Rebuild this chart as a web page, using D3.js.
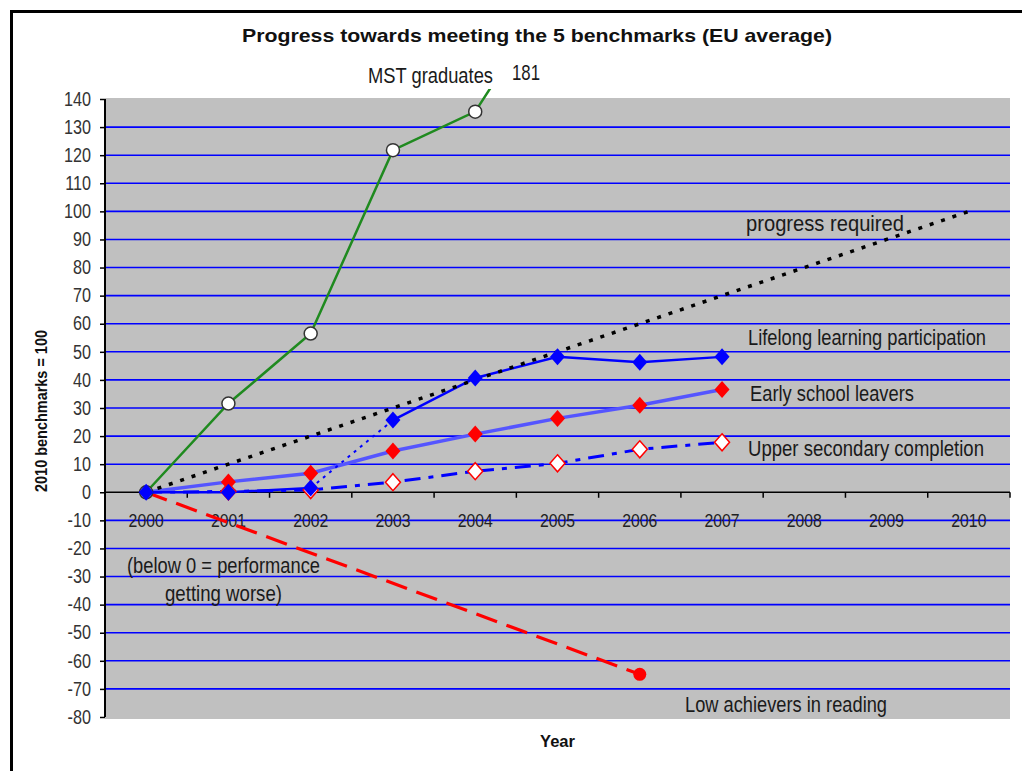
<!DOCTYPE html>
<html>
<head>
<meta charset="utf-8">
<script src="https://cdn.jsdelivr.net/npm/d3@7"></script>
<style>
  html, body { margin: 0; padding: 0; background: #fff; }
  svg { display: block; }
  .narrow { font-family: "Liberation Sans", Arial, sans-serif; }
  .bold { font-family: "Liberation Sans", Arial, sans-serif; font-weight: bold; }
</style>
</head>
<body>
<svg id="chart" width="1022" height="771"></svg>
<script>
// ---- data ----
const years = [2000, 2001, 2002, 2003, 2004, 2005, 2006, 2007, 2008, 2009, 2010];
const yTicks = [-80, -70, -60, -50, -40, -30, -20, -10, 0, 10, 20, 30, 40, 50, 60, 70, 80, 90, 100, 110, 120, 130, 140];

const mstYears = [2000, 2001, 2002, 2003, 2004, 2005];
const mstValues = [0, 31.6, 56.5, 121.8, 135.5, 181];

const requiredYears = [2000, 2001, 2002, 2003, 2004, 2005, 2006, 2007, 2008, 2009, 2010];
const requiredValues = [0, 10, 20, 30, 40, 50, 60, 70, 80, 90, 100];

const lifelongYears = [2000, 2001, 2002, 2003, 2004, 2005, 2006, 2007];
const lifelongValues = [0, 0, 1.5, 25.7, 40.7, 48.2, 46.3, 48.2];

const earlyYears = [2000, 2001, 2002, 2003, 2004, 2005, 2006, 2007];
const earlyValues = [0, 3.7, 6.8, 14.7, 20.7, 26.3, 31.0, 36.6];

const upperYears = [2000, 2001, 2002, 2003, 2004, 2005, 2006, 2007];
const upperValues = [0, 0.3, 0.8, 3.6, 7.5, 10.3, 15.3, 17.8];

const readingYears = [2000, 2006];
const readingValues = [0, -64.8];

// ---- layout ----
const svg = d3.select("#chart");
const W = 1022, H = 771;
const plot = { left: 105, right: 1010, top: 98, bottom: 719 };
const NARROW = 0.83;

const x = d3.scaleBand().domain(years).range([plot.left, plot.right]).paddingInner(0).paddingOuter(0);
const xc = yr => x(yr) + x.bandwidth() / 2;
const y = d3.scaleLinear().domain([-80, 140]).range([717, 99]);

const zip = (a, b) => a.map((v, i) => ({ year: v, value: b[i] }));

// frame
svg.append("rect").attr("width", W).attr("height", H).attr("fill", "#fff");
svg.append("path")
  .attr("d", `M11.5,${H} L11.5,11.5 L${W},11.5`)
  .attr("fill", "none").attr("stroke", "#000").attr("stroke-width", 3);

// title
svg.append("text").attr("class", "bold")
  .attr("x", 537).attr("y", 41.5)
  .attr("text-anchor", "middle")
  .attr("font-size", 19)
  .attr("textLength", 590).attr("lengthAdjust", "spacingAndGlyphs")
  .attr("fill", "#111")
  .text("Progress towards meeting the 5 benchmarks (EU average)");

// plot background
svg.append("rect")
  .attr("x", plot.left).attr("y", plot.top)
  .attr("width", plot.right - plot.left).attr("height", plot.bottom - plot.top)
  .attr("fill", "#c0c0c0");

// gridlines
svg.append("g").selectAll("line")
  .data(yTicks.filter(t => t !== 0 && t !== 140 && t !== -80))
  .join("line")
  .attr("x1", plot.left).attr("x2", plot.right)
  .attr("y1", d => y(d)).attr("y2", d => y(d))
  .attr("stroke", "#0000ff").attr("stroke-width", 1.6);

// y axis
const yAxis = svg.append("g")
  .attr("transform", `translate(${plot.left},0)`)
  .call(d3.axisLeft(y).tickValues(yTicks).tickSize(5).tickPadding(9).tickSizeOuter(0)
    .tickFormat(d => String(d)));
yAxis.select(".domain").attr("stroke", "#000").attr("stroke-width", 2)
  .attr("d", `M0,${y(140)}V${y(-80)}`);
yAxis.selectAll(".tick line").attr("stroke", "#000").attr("stroke-width", 1.5);
yAxis.selectAll(".tick text")
  .attr("class", "narrow")
  .attr("x", 0)
  .attr("transform", `translate(-14,0) scale(${NARROW},1)`)
  .attr("font-size", 19.5).attr("fill", "#333");

// x axis at zero
const xAxis = svg.append("g")
  .attr("transform", `translate(0,${y(0)})`)
  .call(d3.axisBottom(x).tickSize(0).tickPadding(21));
xAxis.select(".domain").attr("stroke", "#000").attr("stroke-width", 1.5)
  .attr("d", `M${plot.left},0H${plot.right}`);
xAxis.selectAll(".tick text")
  .attr("class", "narrow")
  .attr("transform", `scale(${NARROW},1)`)
  .attr("font-size", 19).attr("fill", "#222");
xAxis.selectAll(".boundary")
  .data(years.slice(1).map(yr => x(yr)).concat([plot.right]))
  .join("line")
  .attr("x1", d => d).attr("x2", d => d)
  .attr("y1", 0).attr("y2", 5.5)
  .attr("stroke", "#000").attr("stroke-width", 1.5);

// clip for lines
svg.append("clipPath").attr("id", "clip")
  .append("rect").attr("x", plot.left).attr("y", 89)
  .attr("width", plot.right - plot.left).attr("height", plot.bottom - 89);

const line = d3.line().x(d => xc(d.year)).y(d => y(d.value));
const g = svg.append("g").attr("clip-path", "url(#clip)");

// low achievers in reading (red dashed)
g.append("path").datum(zip(readingYears, readingValues))
  .attr("d", line).attr("fill", "none")
  .attr("stroke", "#ff0000").attr("stroke-width", 3.2)
  .attr("stroke-dasharray", "22,10");

// upper secondary completion (dash-dot)
g.append("path").datum(zip(upperYears, upperValues))
  .attr("d", line).attr("fill", "none")
  .attr("stroke", "#0000ff").attr("stroke-width", 3)
  .attr("stroke-dasharray", "16,8,5,8");

// early school leavers (light blue)
g.append("path").datum(zip(earlyYears, earlyValues))
  .attr("d", line).attr("fill", "none")
  .attr("stroke", "#5555ff").attr("stroke-width", 3.5);

// lifelong learning: dotted break 2002-2003, solid elsewhere
const ll = zip(lifelongYears, lifelongValues);
g.append("path").datum(ll.slice(0, 3))
  .attr("d", line).attr("fill", "none")
  .attr("stroke", "#0000ff").attr("stroke-width", 2.5);
g.append("path").datum(ll.slice(2, 4))
  .attr("d", line).attr("fill", "none")
  .attr("stroke", "#0000ff").attr("stroke-width", 2)
  .attr("stroke-dasharray", "3,5");
g.append("path").datum(ll.slice(3))
  .attr("d", line).attr("fill", "none")
  .attr("stroke", "#0000ff").attr("stroke-width", 2.5);

// MST graduates (green)
g.append("path").datum(zip(mstYears, mstValues))
  .attr("d", line).attr("fill", "none")
  .attr("stroke", "#1f8a1f").attr("stroke-width", 2.5);

// progress required (black dotted)
g.append("path").datum(zip(requiredYears, requiredValues))
  .attr("d", line).attr("fill", "none")
  .attr("stroke", "#000").attr("stroke-width", 3.5)
  .attr("stroke-dasharray", "4,8");

// markers
const diamond = "M0,-8.5L7.5,0L0,8.5L-7.5,0Z";
svg.append("g").selectAll("circle")
  .data(zip(mstYears, mstValues).filter(d => d.value <= 140))
  .join("circle")
  .attr("cx", d => xc(d.year)).attr("cy", d => y(d.value)).attr("r", 6.5)
  .attr("fill", "#fff").attr("stroke", "#333").attr("stroke-width", 1.5);

svg.append("g").selectAll("path")
  .data(zip(upperYears, upperValues).slice(1))
  .join("path")
  .attr("d", diamond)
  .attr("transform", d => `translate(${xc(d.year)},${y(d.value)})`)
  .attr("fill", "#fff").attr("stroke", "#ff0000").attr("stroke-width", 1.5);

svg.append("g").selectAll("path")
  .data(zip(earlyYears, earlyValues).slice(1))
  .join("path")
  .attr("d", diamond)
  .attr("transform", d => `translate(${xc(d.year)},${y(d.value)})`)
  .attr("fill", "#ff0000");

svg.append("g").selectAll("path")
  .data(ll)
  .join("path")
  .attr("d", diamond)
  .attr("transform", d => `translate(${xc(d.year)},${y(d.value)})`)
  .attr("fill", "#0000ff");

svg.append("g").selectAll("circle")
  .data(zip(readingYears, readingValues).slice(1))
  .join("circle")
  .attr("cx", d => xc(d.year)).attr("cy", d => y(d.value)).attr("r", 6.5)
  .attr("fill", "#ff0000");

// annotations (layout): 18px text stretched vertically to mimic a condensed face
const notes = [
  { t: "MST graduates", x: 368, y: 83, w: 125 },
  { t: "181", x: 512, y: 80, w: 28 },
  { t: "progress required", x: 746, y: 231, w: 158 },
  { t: "Lifelong learning participation", x: 748, y: 345, w: 238 },
  { t: "Early school leavers", x: 750, y: 401, w: 164 },
  { t: "Upper secondary completion", x: 748, y: 456, w: 236 },
  { t: "(below 0 = performance", x: 127, y: 573, w: 193 },
  { t: "getting worse)", x: 165, y: 601, w: 117 },
  { t: "Low achievers in reading", x: 685, y: 711.5, w: 202 }
];
svg.append("g").selectAll("text").data(notes).join("text")
  .attr("class", "narrow")
  .attr("transform", d => `translate(${d.x},${d.y}) scale(1,1.22)`)
  .attr("x", 0).attr("y", 0)
  .attr("font-size", 18).attr("fill", "#1a1a1a")
  .attr("textLength", d => d.w).attr("lengthAdjust", "spacingAndGlyphs")
  .text(d => d.t);

// axis titles
svg.append("text").attr("class", "bold")
  .attr("x", 557.5).attr("y", 746.5).attr("text-anchor", "middle")
  .attr("font-size", 17).attr("fill", "#111")
  .attr("textLength", 35).attr("lengthAdjust", "spacingAndGlyphs")
  .text("Year");
svg.append("text").attr("class", "bold")
  .attr("transform", "translate(47,411) rotate(-90)")
  .attr("text-anchor", "middle")
  .attr("font-size", 16.5).attr("fill", "#111")
  .attr("textLength", 162).attr("lengthAdjust", "spacingAndGlyphs")
  .text("2010 benchmarks = 100");
</script>
</body>
</html>
